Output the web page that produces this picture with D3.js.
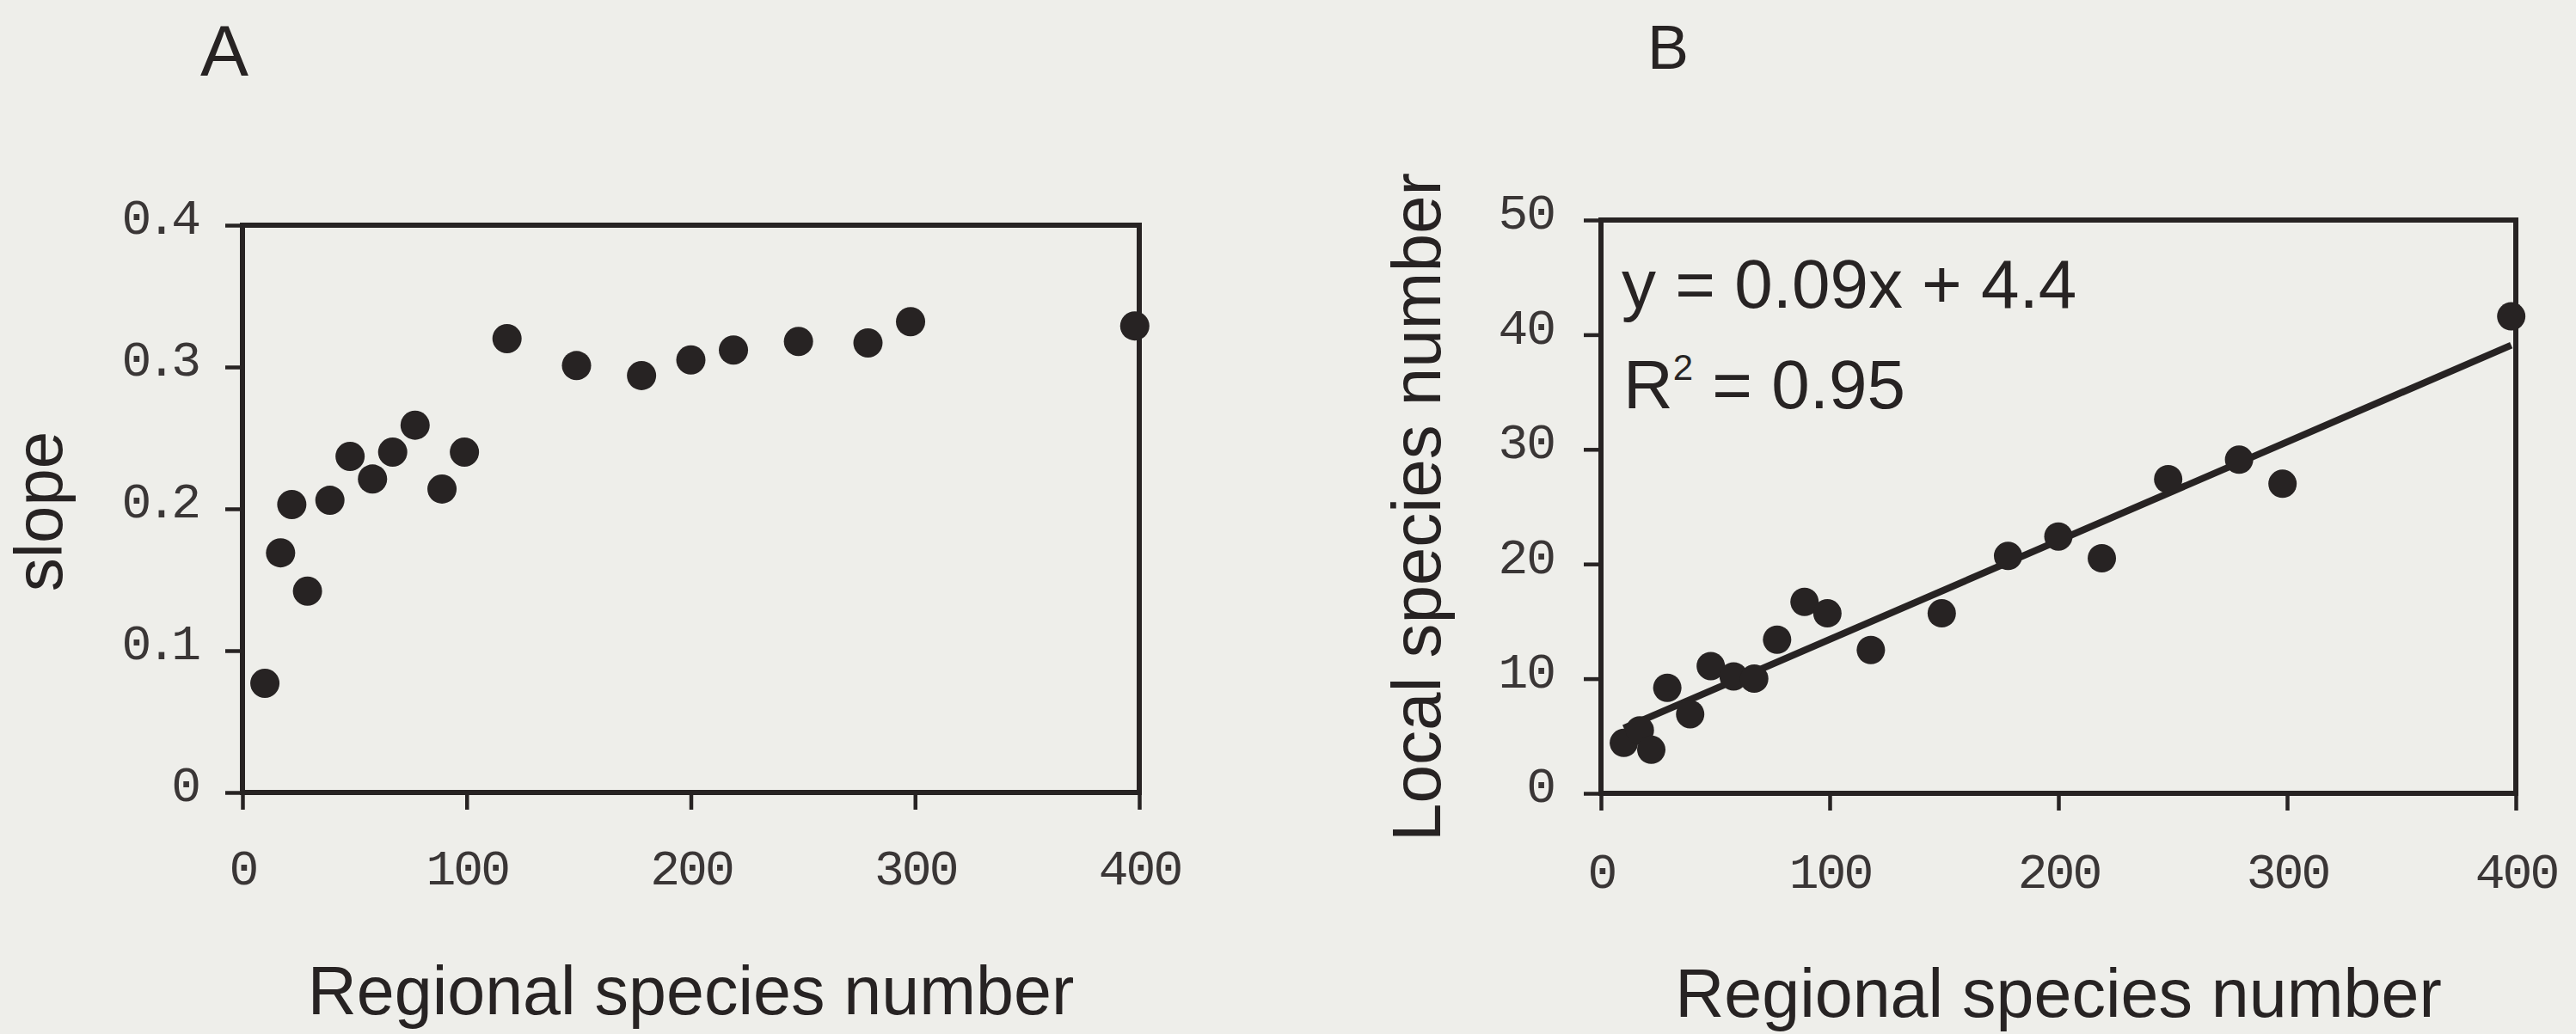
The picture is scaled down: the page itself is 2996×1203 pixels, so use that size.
<!DOCTYPE html>
<html>
<head>
<meta charset="utf-8">
<script src="https://cdn.jsdelivr.net/npm/d3@7"></script>
<style>
  body { margin: 0; background: #eeeeea; }
  svg { display: block; }
</style>
</head>
<body>
<svg width="2996" height="1203"></svg>
<script>
// regional species number, shared by both panels
var regional = [10, 17, 22, 29, 39, 48, 58, 67, 77, 89, 99, 118, 149, 178, 200, 219, 248, 279, 298, 398];
// panel A: slope
var slope = [0.077, 0.169, 0.203, 0.142, 0.206, 0.237, 0.221, 0.240, 0.259, 0.214, 0.240, 0.320, 0.301, 0.294, 0.305, 0.312, 0.318, 0.317, 0.332, 0.329];
// panel B: local species number
var local = [4.4, 5.5, 3.8, 9.2, 6.9, 11.1, 10.2, 10.0, 13.4, 16.7, 15.7, 12.5, 15.7, 20.7, 22.4, 20.5, 27.4, 29.1, 27.0, 41.6];

var xTicks = [0, 100, 200, 300, 400];
var slopeTicks = [0, 0.1, 0.2, 0.3, 0.4];
var localTicks = [0, 10, 20, 30, 40, 50];

var ink = '#272323';
var svg = d3.select('svg');

svg.append('rect')
  .attr('width', 2996)
  .attr('height', 1203)
  .attr('fill', '#eeeeea');

var xA = d3.scaleLinear().domain([0, 400]).range([282, 1325]);
var yA = d3.scaleLinear().domain([0, 0.4]).range([922, 262]);
var xB = d3.scaleLinear().domain([0, 400]).range([1862, 2926]);
var yB = d3.scaleLinear().domain([0, 50]).range([923, 256]);

function drawFrame(x, y, yTicks, yFormat, xPad, ySpacing) {
  var g = svg.append('g');

  var axisBottom = d3.axisBottom(x)
    .tickValues(xTicks)
    .tickSize(20)
    .tickPadding(xPad)
    .tickSizeOuter(0);
  var gx = g.append('g')
    .attr('transform', 'translate(0,' + y.range()[0] + ')')
    .call(axisBottom);

  var axisLeft = d3.axisLeft(y)
    .tickValues(yTicks)
    .tickSize(20)
    .tickPadding(34)
    .tickSizeOuter(0)
    .tickFormat(yFormat);
  var gy = g.append('g')
    .attr('transform', 'translate(' + x.range()[0] + ',0)')
    .call(axisLeft);

  [gx, gy].forEach(function(a) {
    a.select('.domain').remove();
    a.selectAll('line').attr('stroke', ink).attr('stroke-width', 4.5);
    a.selectAll('text')
      .attr('fill', '#3a3636')
      .attr('font-family', 'Liberation Mono, monospace')
      .attr('font-size', 58);
  });
  gx.selectAll('text').attr('letter-spacing', -3);
  gy.selectAll('text').attr('dy', '0.17em').attr('letter-spacing', ySpacing);

  // plot area border
  g.append('rect')
    .attr('x', x.range()[0])
    .attr('y', y.range()[1])
    .attr('width', x.range()[1] - x.range()[0])
    .attr('height', y.range()[0] - y.range()[1])
    .attr('fill', 'none')
    .attr('stroke', ink)
    .attr('stroke-width', 6);
}

drawFrame(xA, yA, slopeTicks, function(d) { return d === 0 ? '0' : d3.format('.1f')(d); }, 46, -6);
drawFrame(xB, yB, localTicks, d3.format('d'), 49, -2);

// panel A points
svg.append('g').selectAll('circle').data(regional).enter()
  .append('circle')
  .attr('cx', function(d) { return xA(d); })
  .attr('cy', function(d, i) { return yA(slope[i]); })
  .attr('r', 17)
  .attr('fill', ink);

// panel B trend line (least squares fit of the points)
var mx = d3.mean(regional), my = d3.mean(local);
var sxy = d3.sum(regional, function(d, i) { return (d - mx) * (local[i] - my); });
var sxx = d3.sum(regional, function(d) { return (d - mx) * (d - mx); });
var a = sxy / sxx, b = my - a * mx;
var ends = d3.extent(regional);

svg.append('line')
  .attr('x1', xB(ends[0]))
  .attr('y1', yB(a * ends[0] + b))
  .attr('x2', xB(ends[1]))
  .attr('y2', yB(a * ends[1] + b))
  .attr('stroke', ink)
  .attr('stroke-width', 8);

svg.append('g').selectAll('circle').data(regional).enter()
  .append('circle')
  .attr('cx', function(d) { return xB(d); })
  .attr('cy', function(d, i) { return yB(local[i]); })
  .attr('r', 16.5)
  .attr('fill', ink);

// equation
var eq = svg.append('g')
  .attr('font-family', 'Liberation Sans, Arial, sans-serif')
  .attr('font-size', 80)
  .attr('fill', ink);
eq.append('text').attr('x', 1886).attr('y', 358).text('y = 0.09x + 4.4');
var r2 = eq.append('text').attr('x', 1888).attr('y', 475);
r2.append('tspan').text('R');
r2.append('tspan').attr('font-size', 42).attr('dy', -33).text('2');
r2.append('tspan').attr('dy', 33).text(' = 0.95');

// panel letters
svg.append('text')
  .attr('x', 261).attr('y', 88)
  .attr('text-anchor', 'middle')
  .attr('font-family', 'Liberation Sans Narrow, Liberation Sans, sans-serif')
  .attr('font-size', 84)
  .attr('fill', ink)
  .text('A');
svg.append('text')
  .attr('x', 1940).attr('y', 80)
  .attr('text-anchor', 'middle')
  .attr('font-family', 'Liberation Sans, Arial, sans-serif')
  .attr('font-size', 72)
  .attr('fill', ink)
  .text('B');

// axis titles
var titles = svg.append('g')
  .attr('font-family', 'Liberation Sans, Arial, sans-serif')
  .attr('fill', ink)
  .attr('text-anchor', 'middle');
titles.append('text')
  .attr('x', (282 + 1325) / 2).attr('y', 1180)
  .attr('font-size', 79)
  .text('Regional species number');
titles.append('text')
  .attr('x', (1862 + 2926) / 2).attr('y', 1183)
  .attr('font-size', 79)
  .text('Regional species number');
titles.append('text')
  .attr('transform', 'translate(72,595) rotate(-90)')
  .attr('font-size', 78)
  .text('slope');
titles.append('text')
  .attr('transform', 'translate(1675,590) rotate(-90)')
  .attr('font-size', 80)
  .text('Local species number');
</script>
</body>
</html>
